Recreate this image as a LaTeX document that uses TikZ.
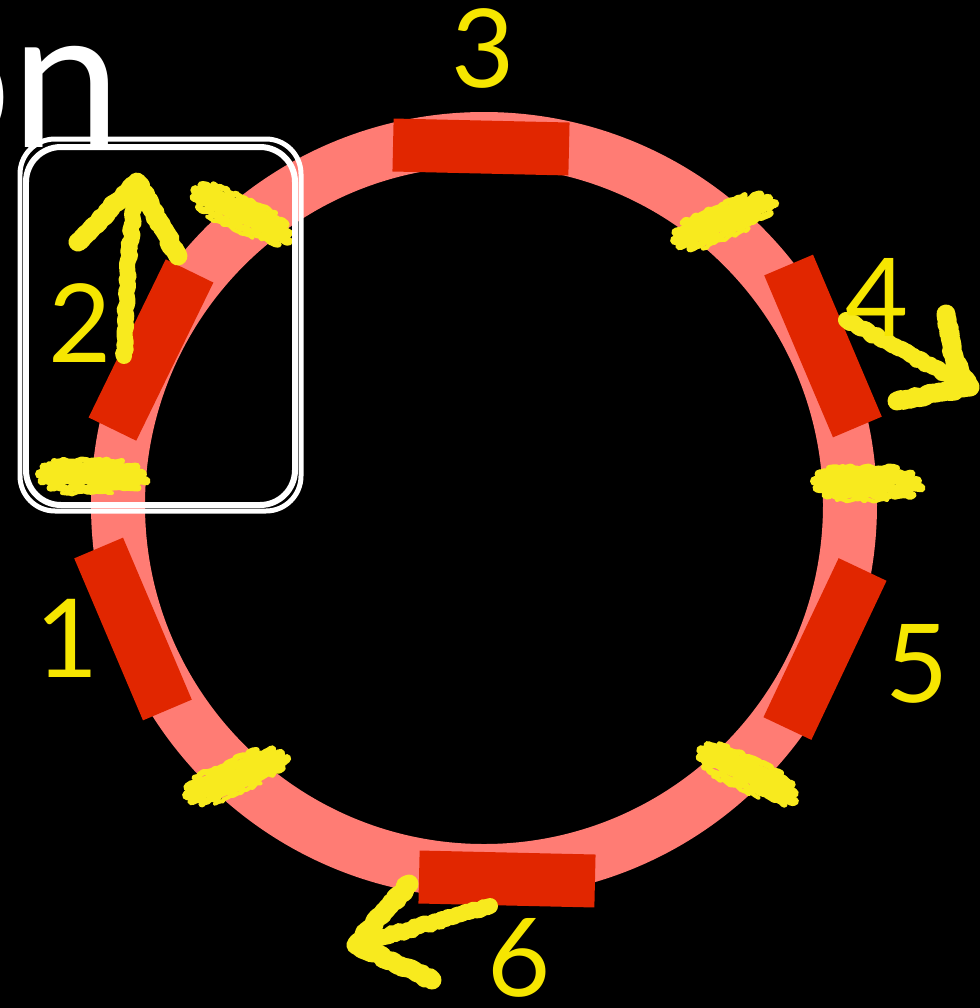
\documentclass[tikz,border=0pt]{standalone}
\usepackage{fontspec}
\setmainfont{Lato}
\usetikzlibrary{decorations.pathmorphing}
\definecolor{ringpink}{HTML}{FF7C74}
\definecolor{magred}{HTML}{E12600}
\definecolor{numyel}{HTML}{F6E600}
\definecolor{chalkyel}{HTML}{F8EA1E}

\tikzset{
  magnet/.style={fill=magred,minimum width=3.52cm,minimum height=1.06cm,inner sep=0pt},
  num/.style={text=numyel,inner sep=0pt,font=\fontsize{62}{62}\selectfont},
  chalk/.style={draw=chalkyel,line cap=round,line join=round,line width=#1,
    decorate,decoration={random steps,segment length=2pt,amplitude=0.9pt}},
  chalk/.default=0.2cm,
  whitechalk/.style={draw=white,line width=#1,rounded corners=0.7cm,line join=round},
  whitechalk/.default=0.12cm
}

\begin{document}
\begin{tikzpicture}[x=0.02cm,y=-0.02cm]
\clip (0,0) rectangle (980,1008);
\fill[black] (0,0) rectangle (980,1008);

% title remnant
\node[text=white,anchor=base east,inner sep=0pt,font=\fontsize{112}{112}\selectfont] (title) at (122,147) {on};

% ring
\draw[ringpink,line width=1.08cm] (484,505) circle (366);

% magnets
\node[magnet,rotate=-67] (m1) at (133,629) {};
\node[magnet,rotate=64] (m2) at (151,350) {};
\node[magnet,rotate=-1.3] (m3) at (481,147) {};
\node[magnet,rotate=-67] (m4) at (823,346) {};
\node[magnet,rotate=64.7] (m5) at (825,649) {};
\node[magnet,rotate=-1.3] (m6) at (507,879) {};

% springs (chalk marks)
\foreach \cx/\cy/\ang in {92/475/0, 242/213/-25, 723/220/24,
    867/482/0, 748/773/-25, 235/775/24}{
  \begin{scope}[shift={(\cx,\cy)},rotate=\ang]
    \foreach \o/\a/\b/\w in {-14/-38/30/0.12cm, -8/-48/44/0.18cm, -1/-52/50/0.2cm,
        6/-50/54/0.18cm, 13/-42/46/0.14cm, 18/-30/20/0.08cm}{
      \draw[chalk=\w] (\a,\o) -- (\b,\o);}
  \end{scope}
}

% highlight box
\draw[whitechalk] (26,147) rectangle (295,505);
\draw[whitechalk=0.1cm] (20,139) rectangle (301,511);

% motion arrows
\coordinate (a2s) at (124,356);
\coordinate (a2t) at (137,182);
\draw[chalk=0.32cm] (a2s) -- (128,260) -- (a2t);
\draw[chalk=0.38cm] (78,242) -- (a2t) -- (178,256);
\coordinate (a4s) at (846,320);
\coordinate (a4t) at (970,387);
\draw[chalk=0.32cm] (a4s) -- (a4t);
\draw[chalk=0.38cm] (946,314) -- (955,362) -- (a4t) -- (897,401);
\coordinate (a6s) at (490,906);
\coordinate (a6t) at (356,945);
\draw[chalk=0.32cm] (a6s) -- (a6t);
\draw[chalk=0.38cm] (409,884) -- (a6t) -- (432,980);

% labels
\node[num] (l1) at (67,638) {1};
\node[num] (l2) at (80,323) {2};
\node[num] (l3) at (483,48) {3};
\node[num] (l4) at (877,297) {4};
\node[num] (l5) at (917,664) {5};
\node[num] (l6) at (519,958) {6};
\end{tikzpicture}
\end{document}
